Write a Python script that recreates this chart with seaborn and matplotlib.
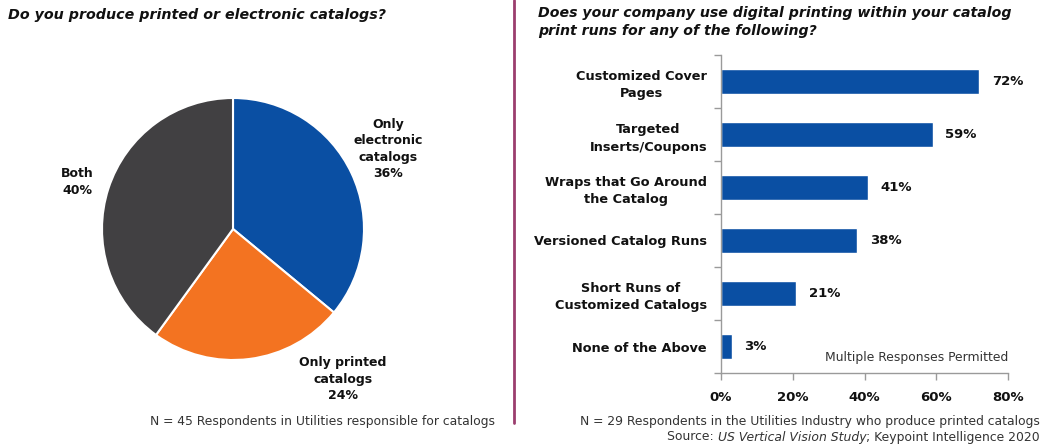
import matplotlib
matplotlib.use("Agg")
import matplotlib.pyplot as plt
import seaborn as sns
import pandas as pd
import numpy as np

# Survey data
pie_labels = ["Only\nelectronic\ncatalogs", "Only printed\ncatalogs", "Both"]
pie_values = [36, 24, 40]

bar_categories = [
    "Customized Cover\nPages",
    "Targeted\nInserts/Coupons",
    "Wraps that Go Around\nthe Catalog",
    "Versioned Catalog Runs",
    "Short Runs of\nCustomized Catalogs",
    "None of the Above",
]
bar_values = [72, 59, 41, 38, 21, 3]
x_ticks = [0, 20, 40, 60, 80]

BLUE = "#0A4FA3"
ORANGE = "#F37321"
DARK = "#414042"
AXIS_GRAY = "#9A9A9A"
DIVIDER = "#9B3D6E"

sns.set_theme(style="white")
plt.rcParams["font.family"] = ["DejaVu Sans"]

W, H = 1042, 446
fig = plt.figure(figsize=(W / 100, H / 100), dpi=100)


def fx(px):
    return px / W


def fy(py):
    return 1 - py / H


# ---------- Left panel: pie ----------
cx, cy, r = 233, 229, 131
pax = fig.add_axes([fx(cx - r), fy(cy + r), 2 * r / W, 2 * r / H])
pax.pie(pie_values, colors=[BLUE, ORANGE, DARK], startangle=90, counterclock=False,
        wedgeprops=dict(edgecolor="white", linewidth=1.5), radius=1)
pax.set_xlim(-1, 1)
pax.set_ylim(-1, 1)
pax.set_aspect("auto")
pax.axis("off")

label_pos = [(388, 149), (343, 379), (77, 182)]
for lab, val, (lx, ly) in zip(pie_labels, pie_values, label_pos):
    fig.text(fx(lx), fy(ly), f"{lab}\n{val}%", ha="center", va="center",
             fontsize=9, fontweight="bold", color="#111111", linespacing=1.35)

fig.text(fx(8), fy(15), "Do you produce printed or electronic catalogs?",
         ha="left", va="center", fontsize=10.3, fontweight="bold", style="italic",
         color="#111111")
fig.text(fx(495), fy(421), "N = 45 Respondents in Utilities responsible for catalogs",
         ha="right", va="center", fontsize=8.9, color="#333333")

# Divider between panels
fig.add_artist(plt.Line2D([fx(514), fx(514)], [fy(0), fy(423)], color=DIVIDER,
                          linewidth=2))

# ---------- Right panel: horizontal bars ----------
bax = fig.add_axes([fx(721), fy(373), (1008 - 721) / W, (373 - 55) / H])
df = pd.DataFrame({"category": bar_categories, "value": bar_values})
sns.barplot(data=df, x="value", y="category", orient="h", color=BLUE,
            saturation=1, width=0.46, ax=bax)
bax.set_xlim(0, 80)
bax.set_ylim(len(bar_categories) - 0.5, -0.5)
bax.set_xticks(x_ticks)
bax.set_xticklabels([f"{t}%" for t in x_ticks], fontsize=9.5, fontweight="bold",
                    color="#111111")
bax.set_yticks(range(len(bar_categories)))
bax.set_yticklabels(bar_categories, fontsize=9.3, fontweight="bold", color="#111111",
                    linespacing=1.45)
for lbl in bax.get_yticklabels():
    lbl.set_multialignment("center")
bax.set_yticks(np.arange(-0.5, len(bar_categories), 1), minor=True)
bax.tick_params(axis="y", which="major", length=0, pad=10)
bax.tick_params(axis="y", which="minor", length=5, color=AXIS_GRAY, width=1,
                direction="out", left=True)
bax.tick_params(axis="x", which="major", length=5, color=AXIS_GRAY, width=1,
                direction="out", bottom=True, pad=8)
bax.set_xlabel("")
bax.set_ylabel("")
for side in ["top", "right"]:
    bax.spines[side].set_visible(False)
for side in ["left", "bottom"]:
    bax.spines[side].set_color(AXIS_GRAY)
    bax.spines[side].set_linewidth(1)
bax.grid(False)

for i, v in enumerate(bar_values):
    bax.annotate(f"{v}%", xy=(v, i), xytext=(9, 0), textcoords="offset points",
                 ha="left", va="center", fontsize=9.5, fontweight="bold",
                 color="#111111")

bax.text(1.0, 0.05, "Multiple Responses Permitted", transform=bax.transAxes,
         ha="right", va="center", fontsize=8.9, color="#333333")

fig.text(fx(538), fy(22),
         "Does your company use digital printing within your catalog\nprint runs for any of the following?",
         ha="left", va="center", fontsize=10.2, fontweight="bold", style="italic",
         color="#111111", linespacing=1.4)

fig.text(fx(1040), fy(422),
         "N = 29 Respondents in the Utilities Industry who produce printed catalogs",
         ha="right", va="center", fontsize=8.9, color="#333333")

# Source line with an italic study title, assembled right to left
fig.canvas.draw()
renderer = fig.canvas.get_renderer()
pieces = [("Source: ", "normal"), ("US Vertical Vision Study", "italic"),
          ("; Keypoint Intelligence 2020", "normal")]
xr = 1040
for txt, st in reversed(pieces):
    t = fig.text(fx(xr), fy(437), txt, ha="right", va="center", fontsize=8.9,
                 style=st, color="#333333")
    bb = t.get_window_extent(renderer=renderer)
    xr -= bb.width

fig.savefig("out.png", dpi=100, facecolor="white")
